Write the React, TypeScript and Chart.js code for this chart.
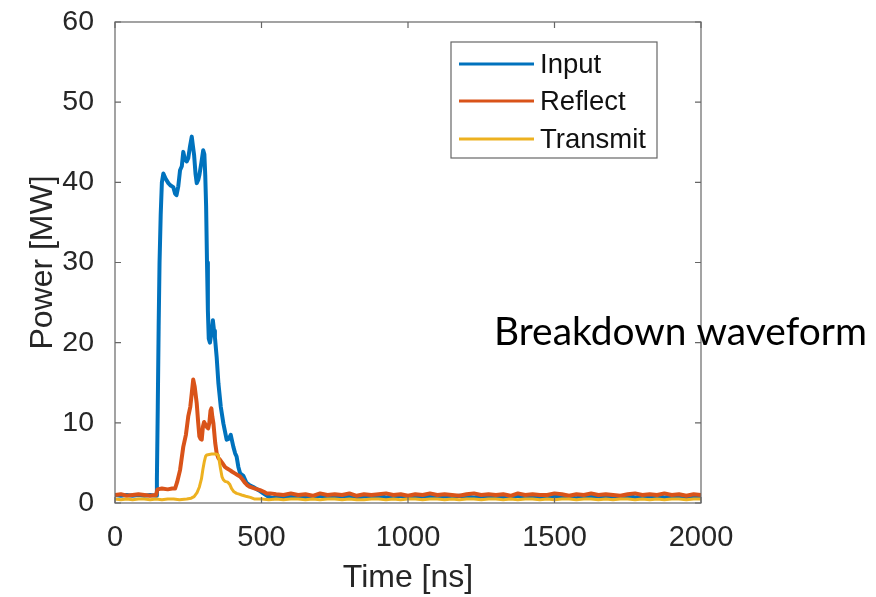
import React, { useEffect, useRef } from 'react';
import { Chart, registerables } from 'chart.js';

Chart.register(...registerables);

const FONT = '"Liberation Sans", Arial, Helvetica, sans-serif';

const xTickValues = [0, 500, 1000, 1500, 2000];
const yTickValues = [0, 10, 20, 30, 40, 50, 60];
const seriesNames = ['Input', 'Reflect', 'Transmit'];
const seriesColors = ['#0072BD', '#D95319', '#EDB120'];
const annotationText = 'Breakdown waveform';

const inputTime = [0, 20, 40, 60, 80, 100, 120, 140, 143, 146, 149, 152, 156, 160, 165, 172, 182, 190, 199, 205, 210, 216, 222, 228, 233, 239, 245, 250, 256, 262, 266, 270, 275, 279, 284, 288, 295, 301, 305, 308, 311, 314, 317, 320, 324, 330, 334, 338, 341, 347, 353, 361, 370, 381, 388, 395, 404, 410, 415, 421, 427, 438, 449, 460, 472, 490, 506, 523, 540];
const inputPower = [1.0, 0.9, 1.0, 0.9, 1.0, 0.9, 1.0, 0.9, 3, 12, 22, 30, 36, 40, 41.1, 40.5, 39.9, 39.6, 39.4, 38.6, 38.4, 39.5, 41.5, 42, 43.8, 42.8, 42.6, 43, 44.5, 45.7, 44.5, 43.4, 41, 39.9, 40.3, 40.9, 42.5, 44.0, 43.5, 40.9, 37, 30, 24, 20.5, 20.0, 21.4, 22.8, 21.5, 20.7, 18.2, 14.9, 12.0, 9.9, 7.9, 8.0, 8.5, 7.0, 6.2, 5.8, 4.5, 3.7, 3.4, 2.5, 2.2, 2.0, 1.6, 1.2, 0.8, 0.6];

const reflectTime = [0, 20, 40, 60, 80, 100, 120, 140, 145, 160, 180, 195, 205, 212, 222, 233, 242, 250, 257, 262, 267, 272, 279, 284, 288, 292, 296, 300, 304, 309, 313, 318, 322, 326, 329, 332, 336, 342, 347, 353, 358, 366, 375, 383, 392, 400, 409, 418, 427, 436, 444, 452, 461, 478, 495, 508, 518, 530];
const reflectPower = [1.0, 1.1, 0.9, 1.0, 1.1, 1.0, 0.9, 1.0, 1.7, 1.8, 1.7, 1.8, 1.8, 2.6, 4.1, 7.0, 8.5, 10.8, 12.0, 13.7, 15.4, 14.5, 12.4, 10.0, 8.3, 8.0, 7.9, 9.5, 10.1, 9.8, 9.5, 9.3, 10.0, 11.5, 11.8, 10.8, 9.9, 7.5, 6.2, 5.6, 5.4, 5.0, 4.5, 4.3, 4.1, 3.9, 3.7, 3.5, 3.3, 2.9, 2.5, 2.2, 2.0, 1.8, 1.6, 1.4, 1.2, 1.2];

const transmitTime = [0, 20, 40, 60, 80, 100, 120, 140, 160, 180, 200, 220, 245, 260, 270, 280, 288, 295, 300, 305, 309, 313, 330, 345, 352, 356, 360, 365, 370, 375, 385, 392, 398, 406, 415, 424, 432, 441, 450, 462, 475, 500, 525];
const transmitPower = [0.5, 0.4, 0.5, 0.4, 0.5, 0.5, 0.4, 0.5, 0.4, 0.5, 0.5, 0.4, 0.5, 0.6, 0.8, 1.3, 2.0, 3.0, 4.2, 5.2, 5.8, 6.0, 6.1, 6.1, 6.0, 5.2, 4.3, 3.3, 2.9, 2.7, 2.6, 2.3, 1.8, 1.4, 1.2, 1.1, 1.0, 0.9, 0.8, 0.7, 0.5, 0.5, 0.4];

const tailTime = [
  550, 575, 600, 625, 650, 675, 700, 725, 750, 775,
  800, 825, 850, 875, 900, 925, 950, 975, 1000, 1025,
  1050, 1075, 1100, 1125, 1150, 1175, 1200, 1225, 1250, 1275,
  1300, 1325, 1350, 1375, 1400, 1425, 1450, 1475, 1500, 1525,
  1550, 1575, 1600, 1625, 1650, 1675, 1700, 1725, 1750, 1775,
  1800, 1825, 1850, 1875, 1900, 1925, 1950, 1975, 2000,
];
const inputTail = [
  0.8, 0.7, 0.9, 0.8, 0.7, 0.8, 0.9, 0.7, 0.8, 0.8,
  0.9, 0.7, 0.8, 0.8, 0.9, 0.7, 0.8, 0.9, 0.8, 0.7,
  0.8, 0.9, 0.7, 0.8, 0.8, 0.9, 0.8, 0.7, 0.8, 0.9,
  0.8, 0.7, 0.8, 0.9, 0.8, 0.8, 0.7, 0.9, 0.8, 0.8,
  0.7, 0.6, 0.8, 0.9, 0.8, 0.7, 0.8, 0.8, 0.9, 0.7,
  0.8, 0.8, 0.9, 0.7, 0.8, 0.8, 0.7, 0.9, 0.8,
];
const reflectTail = [
  1.1, 1.0, 1.2, 1.0, 1.1, 0.9, 1.2, 1.0, 1.1, 1.0,
  1.2, 0.9, 1.1, 1.0, 1.1, 1.2, 1.0, 1.1, 0.9, 1.1,
  1.0, 1.2, 1.0, 1.1, 1.0, 0.9, 1.1, 1.2, 1.0, 1.1,
  1.0, 1.1, 0.9, 1.2, 1.0, 1.1, 1.0, 1.0, 1.2, 1.1,
  0.9, 1.1, 1.0, 1.2, 1.0, 1.1, 1.0, 0.9, 1.1, 1.2,
  1.0, 1.1, 1.0, 1.2, 1.0, 1.1, 0.9, 1.1, 1.0,
];
const transmitTail = [
  0.5, 0.4, 0.5, 0.5, 0.4, 0.5, 0.4, 0.5, 0.5, 0.4,
  0.5, 0.4, 0.4, 0.5, 0.5, 0.4, 0.5, 0.4, 0.5, 0.5,
  0.4, 0.5, 0.5, 0.4, 0.5, 0.4, 0.5, 0.5, 0.4, 0.5,
  0.5, 0.4, 0.5, 0.4, 0.5, 0.5, 0.4, 0.5, 0.4, 0.5,
  0.5, 0.4, 0.5, 0.5, 0.4, 0.5, 0.4, 0.5, 0.5, 0.4,
  0.5, 0.4, 0.5, 0.4, 0.5, 0.5, 0.4, 0.5, 0.5,
];

function toPoints(t: number[], v: number[], tt: number[], tv: number[]) {
  const pts = t.map((x, i) => ({ x, y: v[i] }));
  return pts.concat(tt.map((x, i) => ({ x, y: tv[i] })));
}

const boxPlugin = {
  id: 'matlabBox',
  afterDatasetsDraw(chart: any) {
    const { ctx, chartArea: a, scales } = chart;
    ctx.save();
    ctx.strokeStyle = '#666666';
    ctx.lineWidth = 1.2;
    ctx.strokeRect(a.left, a.top, a.right - a.left, a.bottom - a.top);
    const L = 6;
    ctx.beginPath();
    scales.x.ticks.forEach((t: any) => {
      const px = scales.x.getPixelForValue(t.value);
      ctx.moveTo(px, a.bottom);
      ctx.lineTo(px, a.bottom - L);
      ctx.moveTo(px, a.top);
      ctx.lineTo(px, a.top + L);
    });
    scales.y.ticks.forEach((t: any) => {
      const py = scales.y.getPixelForValue(t.value);
      ctx.moveTo(a.left, py);
      ctx.lineTo(a.left + L, py);
      ctx.moveTo(a.right, py);
      ctx.lineTo(a.right - L, py);
    });
    ctx.stroke();
    ctx.restore();
  },
  afterDraw(chart: any) {
    const { ctx } = chart;
    ctx.save();
    const bx = 451, by = 42, bw = 206, bh = 116;
    ctx.fillStyle = '#ffffff';
    ctx.fillRect(bx, by, bw, bh);
    ctx.strokeStyle = '#666666';
    ctx.lineWidth = 1.2;
    ctx.strokeRect(bx, by, bw, bh);
    const rows = [64, 101, 139];
    chart.data.datasets.forEach((ds: any, i: number) => {
      ctx.strokeStyle = ds.borderColor;
      ctx.lineWidth = 3.2;
      ctx.beginPath();
      ctx.moveTo(459, rows[i]);
      ctx.lineTo(534, rows[i]);
      ctx.stroke();
      ctx.fillStyle = '#111111';
      ctx.font = `27.5px ${FONT}`;
      ctx.textBaseline = 'middle';
      ctx.textAlign = 'left';
      ctx.fillText(ds.label, 540, rows[i] + 1);
    });
    ctx.font = `40px Lato, "Open Sans", sans-serif`;
    const w = ctx.measureText(annotationText).width;
    const size = 40 * 373 / w;
    ctx.font = `${size}px Lato, "Open Sans", sans-serif`;
    ctx.fillStyle = '#000000';
    ctx.textBaseline = 'alphabetic';
    ctx.fillText(annotationText, 494, 345);
    ctx.restore();
  },
};

export default function App() {
  const ref = useRef<HTMLCanvasElement | null>(null);
  useEffect(() => {
    if (!ref.current) return;
    const chart = new Chart(ref.current, {
      type: 'line',
      data: {
        datasets: [
          { label: seriesNames[0], data: toPoints(inputTime, inputPower, tailTime, inputTail), borderColor: seriesColors[0], borderWidth: 4, order: 2 },
          { label: seriesNames[1], data: toPoints(reflectTime, reflectPower, tailTime, reflectTail), borderColor: seriesColors[1], borderWidth: 4, order: 1 },
          { label: seriesNames[2], data: toPoints(transmitTime, transmitPower, tailTime, transmitTail), borderColor: seriesColors[2], borderWidth: 3, order: 0 },
        ] as any,
      },
      options: {
        animation: false,
        responsive: false,
        devicePixelRatio: 1,
        elements: { point: { radius: 0 }, line: { tension: 0, borderJoinStyle: 'round', fill: false } },
        layout: { padding: { top: 22, right: 175, left: 0, bottom: 0 } },
        plugins: { legend: { display: false }, tooltip: { enabled: false } },
        scales: {
          x: {
            type: 'linear',
            min: 0,
            max: 2000,
            afterBuildTicks: (s: any) => { s.ticks = xTickValues.map((v) => ({ value: v })); },
            afterFit: (s: any) => { s.height = 94; s.paddingLeft = 0; s.paddingRight = 0; },
            grid: { display: false },
            border: { display: false },
            ticks: { color: '#262626', font: { family: FONT, size: 29 }, padding: 10, maxRotation: 0, callback: (v: any) => String(v) },
            title: { display: true, text: 'Time [ns]', color: '#262626', font: { family: FONT, size: 32 }, padding: { top: 0, bottom: 0 } },
          },
          y: {
            type: 'linear',
            min: 0,
            max: 60,
            afterBuildTicks: (s: any) => { s.ticks = yTickValues.map((v) => ({ value: v })); },
            afterFit: (s: any) => { s.width = 115; s.paddingTop = 0; s.paddingBottom = 0; },
            grid: { display: false },
            border: { display: false },
            ticks: { color: '#262626', font: { family: FONT, size: 28.5 }, padding: 13, callback: (v: any) => String(v) },
            title: { display: true, text: 'Power [MW]', color: '#262626', font: { family: FONT, size: 32 }, padding: { top: 24, bottom: 0 } },
          },
        },
      },
      plugins: [boxPlugin],
    });
    return () => chart.destroy();
  }, []);
  return (
    <div style={{ position: 'absolute', left: 0, top: 0, width: 876, height: 597, background: '#ffffff' }}>
      <canvas ref={ref} width={876} height={597} style={{ display: 'block' }} />
    </div>
  );
}
